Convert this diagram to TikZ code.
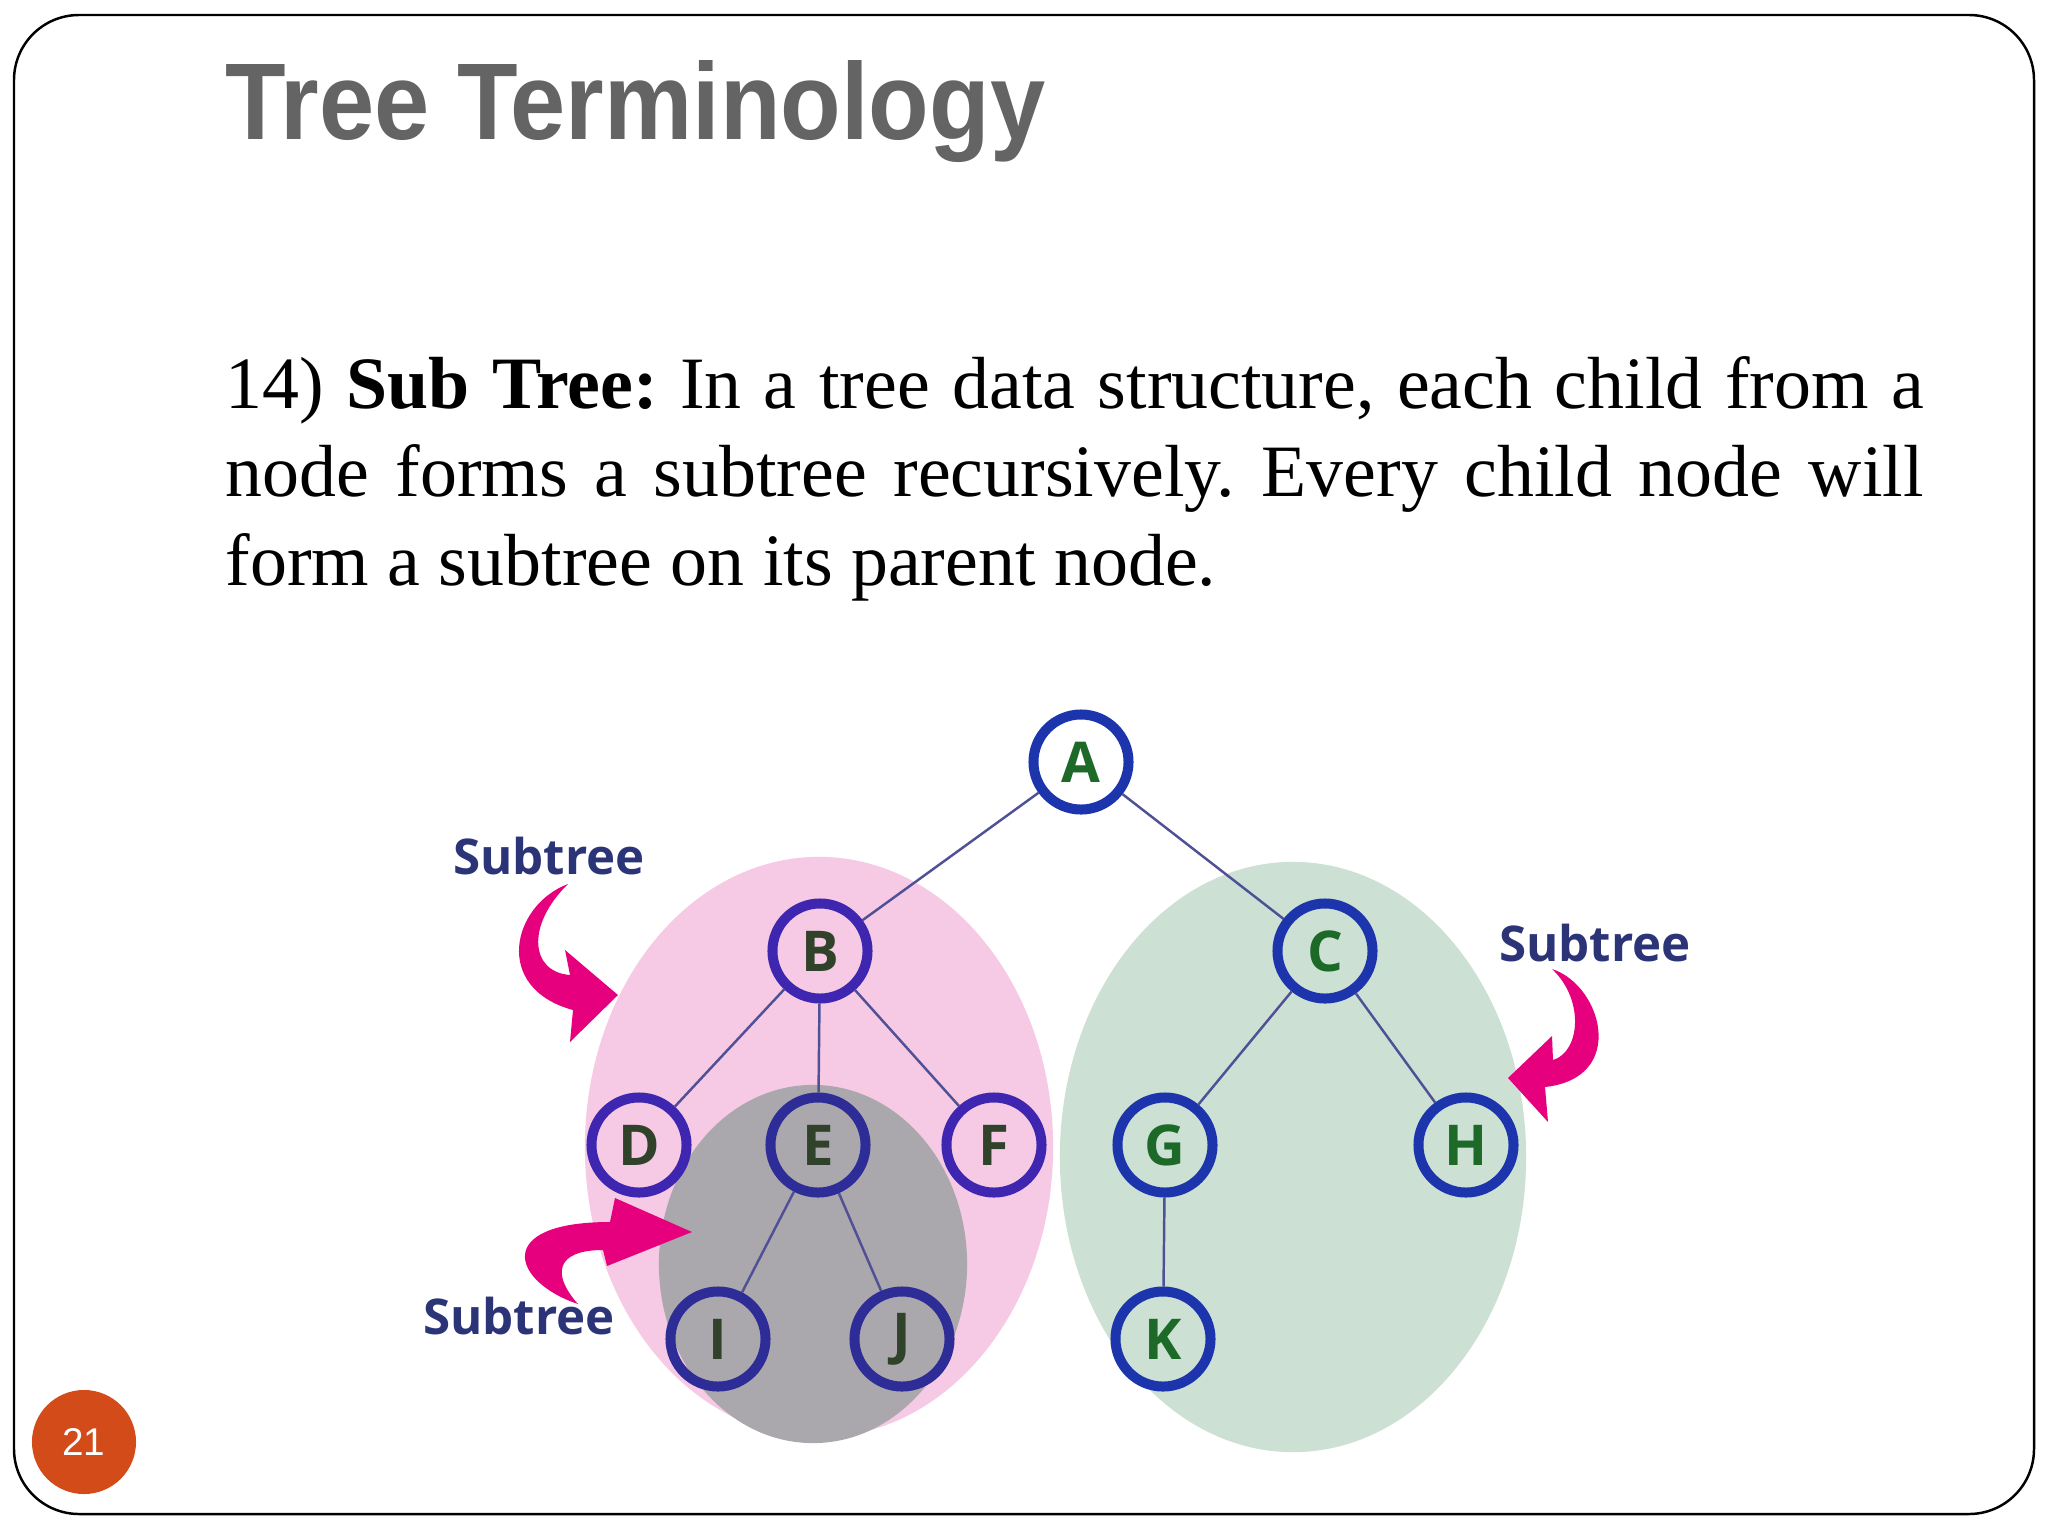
\documentclass[tikz,border=0pt]{standalone}
\usepackage{fontspec}
\setmainfont{Liberation Serif}
\newfontfamily\titlefont[FakeStretch=0.91]{Liberation Sans}
\newfontfamily\pagefont{Liberation Sans}
\newfontfamily\nodefont{Open Sans}
\usepackage{tikz}
\usetikzlibrary{arrows.meta, positioning, calc}
\usepackage{xcolor}

\definecolor{ringblue}{RGB}{28,52,172}
\definecolor{ringpurple}{RGB}{62,38,176}
\definecolor{ringnavy}{RGB}{46,44,150}
\definecolor{letgreen}{RGB}{28,105,40}
\definecolor{letdark}{RGB}{48,66,42}
\definecolor{linkcol}{RGB}{80,80,150}
\definecolor{subpink}{RGB}{246,202,228}
\definecolor{subgrey}{RGB}{170,168,172}
\definecolor{subgreen}{RGB}{205,224,212}
\definecolor{arrowpink}{RGB}{230,0,126}
\definecolor{labelnavy}{RGB}{44,52,120}
\definecolor{titlegrey}{RGB}{100,100,100}
\definecolor{pagered}{RGB}{210,75,25}

\begin{document}
\begin{tikzpicture}[x=0.01cm, y=-0.01cm,
        tnode/.style={circle, draw=ringblue, line width=0.1cm, minimum size=0.95cm, inner sep=0pt,
          text=letgreen, font=\nodefont\bfseries\fontsize{16}{16}\selectfont},
        pnode/.style={tnode, draw=ringpurple, text=letdark},
        gnode/.style={tnode, draw=ringnavy, text=letdark},
        link/.style={linkcol, line width=0.7pt},
        sublabel/.style={text=labelnavy, inner sep=0pt, font=\nodefont\bfseries\fontsize{14}{14}\selectfont}
      ]
      \useasboundingbox (0,0) rectangle (2048,1536);
      \draw[line width=0.7pt, rounded corners=0.65cm] (14,15) rectangle (2034,1514);

      \node[anchor=base west, inner sep=0pt, text=titlegrey, font=\titlefont\bfseries\fontsize{31}{31}\selectfont]
        (title) at (225,139) {Tree Terminology};
      \node[anchor=base west, inner sep=0pt, text width=16.97cm, align=justify,
        font=\frenchspacing\fontsize{21}{25.2}\selectfont] (body) at (225,408)
        {14) \textbf{Sub Tree:} In a tree data structure, each child from a node forms a subtree recursively. Every child node will form a subtree on its parent node.};

      \fill[subpink] (819,1147) ellipse [x radius=2.34cm, y radius=2.90cm];
      \fill[subgrey] (813,1264) ellipse [x radius=1.54cm, y radius=1.79cm];
      \fill[subgreen] (1293,1157) ellipse [x radius=2.33cm, y radius=2.95cm];

      \fill[arrowpink] (568,884) .. controls (512,905) and (492,988) .. (573,1010) -- (570,1042)
        -- (618,995) -- (565,950) -- (570,975) .. controls (530,972) and (526,925) .. cycle;
      \fill[arrowpink] (578,1304) .. controls (512,1282) and (492,1222) .. (610,1222) -- (615,1198)
        -- (692,1232) -- (607,1266) -- (603,1250) .. controls (555,1250) and (552,1275) .. cycle;
      \fill[arrowpink] (1552,969) .. controls (1602,985) and (1628,1078) .. (1545,1087) -- (1548,1122)
        -- (1508,1078) -- (1552,1036) -- (1553,1060) .. controls (1580,1052) and (1585,1000) .. cycle;

      \node[tnode] (A) at (1081,762)  {A};
      \node[pnode] (B) at (820,951)   {B};
      \node[tnode] (C) at (1325,951)  {C};
      \node[pnode] (D) at (639,1145)  {D};
      \node[gnode] (E) at (818,1145)  {E};
      \node[pnode] (F) at (994,1145)  {F};
      \node[tnode] (G) at (1165,1145) {G};
      \node[tnode] (H) at (1466,1145) {H};
      \node[gnode] (I) at (718,1339)  {I};
      \node[gnode] (J) at (902,1339)  {J};
      \node[tnode] (K) at (1163,1339) {K};
      \draw[link] (A)--(B);
      \draw[link] (A)--(C);
      \draw[link] (B)--(D);
      \draw[link] (B)--(E);
      \draw[link] (B)--(F);
      \draw[link] (E)--(I);
      \draw[link] (E)--(J);
      \draw[link] (C)--(G);
      \draw[link] (C)--(H);
      \draw[link] (G)--(K);

      \node[sublabel] (subB) at (549,856)  {Subtree};
      \node[sublabel] (subE) at (519,1316) {Subtree};
      \node[sublabel] (subC) at (1595,943) {Subtree};

      \node[circle, fill=pagered, minimum size=1.04cm, inner sep=0pt, text=white,
        font=\pagefont\fontsize{11}{11}\selectfont] (page) at (84,1442) {21};
    \end{tikzpicture}
\end{document}
